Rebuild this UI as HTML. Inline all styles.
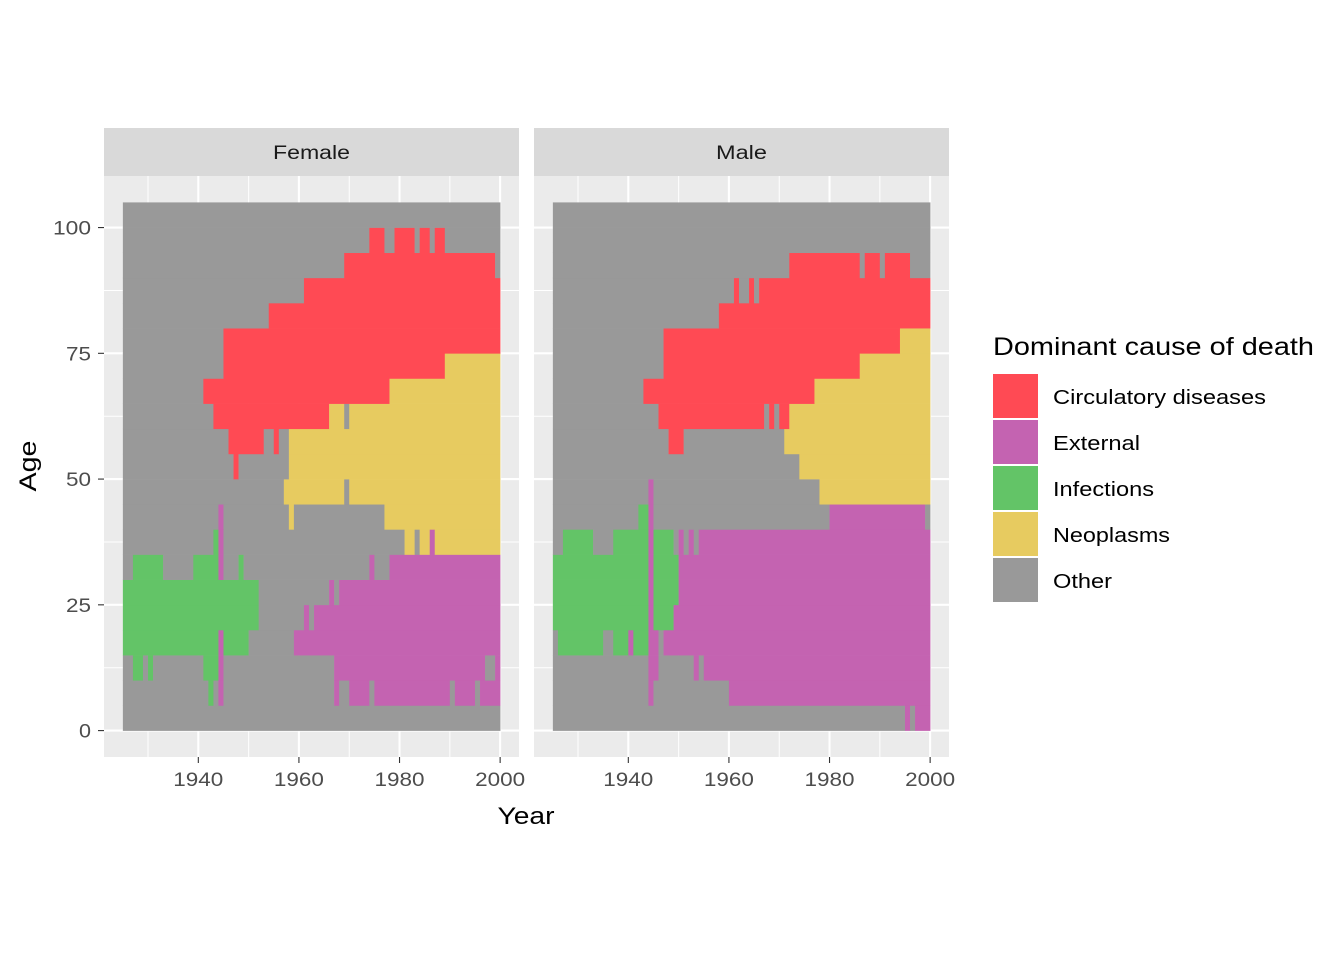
<!DOCTYPE html>
<html><head><meta charset="utf-8">
<style>
html,body{margin:0;padding:0;background:#fff;}
svg{display:block;font-family:"Liberation Sans",sans-serif;}
</style></head>
<body>
<svg id="chart" width="1344" height="960" viewBox="0 0 1344 960" xmlns="http://www.w3.org/2000/svg">
<rect width="1344" height="960" fill="#fff"/>
<g id="panels"></g>
<g id="legend"></g>
<text x="526" y="824" font-size="24" text-anchor="middle" fill="#000" textLength="57" lengthAdjust="spacingAndGlyphs">Year</text>
<text x="36" y="466" font-size="24" text-anchor="middle" fill="#000" transform="rotate(-90 36 466)" textLength="51" lengthAdjust="spacingAndGlyphs">Age</text>
</svg>
<script>
const categories = ["C","E","I","N","O"];
const categoryLabels = ["Circulatory diseases","External","Infections","Neoplasms","Other"];
const categoryColors = {C:"#FF4A54",E:"#C463B1",I:"#63C467",N:"#E7CB60",O:"#999999"};
const ageBands = [0,5,10,15,20,25,30,35,40,45,50,55,60,65,70,75,80,85,90,95,100];
const xTicks = [1940,1960,1980,2000];
const yTicks = [0,25,50,75,100];
const femaleRows = [
"O25",
"O25 I42 O43 E44 O45 E67 O68 E70 O74 E75 O90 E91 O95 E96",
"O25 I27 O29 I30 O31 I41 E44 O45 E67 O97 E99",
"I25 E44 I45 O50 E59",
"I25 O52 E61 O62 E63",
"I25 O52 E66 O67 E68",
"O25 I27 O33 I39 E44 O45 I48 O49 E74 O75 E78",
"O25 I43 E44 O45 N81 O83 N84 E86 N87",
"O25 E44 O45 N58 O59 N77",
"O25 N57 O69 N70",
"O25 C47 O48 N58",
"O25 C46 O53 C55 O56 N58",
"O25 C43 N66 O69 N70",
"O25 C41 N78",
"O25 C45 N89",
"O25 C45",
"O25 C54",
"O25 C61",
"O25 C69 O99",
"O25 C74 O77 C79 O83 C84 O86 C87 O89",
"O25"];
const maleRows = [
"O25 E95 O96 E97",
"O25 E44 O45 E60",
"O25 E44 O46 E53 O54 E55",
"O25 I26 O35 I37 E40 I41 E44 O46 E47",
"I25 E44 I45 E49",
"I25 E44 I45 E50",
"I25 E44 I45 E50",
"O25 I27 O33 I37 E44 I45 O49 E50 O51 E52 O53 E54",
"O25 I42 E44 O45 E80 O99",
"O25 E44 O45 N78",
"O25 N74",
"O25 C48 O51 N71",
"O25 C46 O67 C68 O69 C70 N72",
"O25 C43 N77",
"O25 C47 N86",
"O25 C47 N94",
"O25 C58",
"O25 C61 O62 C64 O65 C66",
"O25 C72 O86 C87 O90 C91 O96",
"O25",
"O25"];
const yearMin = 1925, yearMax = 2000, ageMax = 105;

const NS = "http://www.w3.org/2000/svg";
function mk(tag, attrs, parent){const e=document.createElementNS(NS,tag);for(const k in attrs)e.setAttribute(k,attrs[k]);parent.appendChild(e);return e;}
const panelTop = 176, panelBottom = 757, panelW = 415;
const xRange = yearMax - yearMin, xPad = xRange*0.05;
const yPad = ageMax*0.05;
function makeX(left){return y => left + (y - (yearMin - xPad)) * panelW / (xRange + 2*xPad);}
function ys(a){return panelBottom - (a + yPad) * (panelBottom - panelTop) / (ageMax + 2*yPad);}
const tickW = {"0":12,"25":25,"50":25,"75":25,"100":38};

const panelsG = document.getElementById('panels');
const panels = [{name:"Female", left:104, rows:femaleRows, sw:77},{name:"Male", left:534, rows:maleRows, sw:51}];
panels.forEach((p, pi) => {
  const xs = makeX(p.left);
  const g = mk('g', {}, panelsG);
  
  
  const bg = mk('rect', {x:p.left, y:panelTop, width:panelW, height:panelBottom-panelTop, fill:"#EBEBEB"}, g);
  
  
  for (let yr = 1930; yr <= 2000; yr += 20) {
    const l = mk('line', {x1:xs(yr), x2:xs(yr), y1:panelTop, y2:panelBottom, stroke:"#fff", "stroke-width":1}, g);
    
    
  }
  for (let a = 12.5; a <= 100; a += 25) {
    const l = mk('line', {x1:p.left, x2:p.left+panelW, y1:ys(a), y2:ys(a), stroke:"#fff", "stroke-width":1}, g);
    
    
  }
  xTicks.forEach(t => {
    const l = mk('line', {x1:xs(t), x2:xs(t), y1:panelTop, y2:panelBottom, stroke:"#fff", "stroke-width":2.1}, g);
    
    
  });
  yTicks.forEach(t => {
    const l = mk('line', {x1:p.left, x2:p.left+panelW, y1:ys(t), y2:ys(t), stroke:"#fff", "stroke-width":2.1}, g);
    
    
  });
  p.rows.forEach((row, ri) => {
    const age = ageBands[ri];
    const segs = row.split(' ').map(s => ({c:s[0], start:1900 + parseInt(s.slice(1))}));
    segs.forEach((s, si) => {
      const end = si + 1 < segs.length ? segs[si+1].start : yearMax;
      const r = mk('rect', {x:xs(s.start), y:ys(age+5), width:xs(end)-xs(s.start)+0.3, height:ys(age)-ys(age+5)+0.3, fill:categoryColors[s.c]}, g);
      
      
    });
  });
  const st = mk('rect', {x:p.left, y:128, width:panelW, height:48, fill:"#D9D9D9"}, g);
  
  
  const stt = mk('text', {x:p.left+panelW/2, y:159, "font-size":19, "text-anchor":"middle", fill:"#1A1A1A", textLength:p.sw, lengthAdjust:"spacingAndGlyphs"}, g);
  stt.textContent = p.name;
  
  
  xTicks.forEach(t => {
    const tk = mk('line', {x1:xs(t), x2:xs(t), y1:panelBottom, y2:panelBottom+6, stroke:"#333", "stroke-width":1.1}, g);
    
    
    const tl = mk('text', {x:xs(t), y:786, "font-size":19, "text-anchor":"middle", fill:"#4D4D4D", textLength:50, lengthAdjust:"spacingAndGlyphs"}, g);
    tl.textContent = t;
    
    
  });
  if (pi === 0) {
    yTicks.forEach(t => {
      const tk = mk('line', {x1:p.left-6, x2:p.left, y1:ys(t), y2:ys(t), stroke:"#333", "stroke-width":1.1}, g);
      
      
      const tl = mk('text', {x:p.left-13, y:ys(t)+7, "font-size":19, "text-anchor":"end", fill:"#4D4D4D", textLength:tickW[String(t)], lengthAdjust:"spacingAndGlyphs"}, g);
      tl.textContent = t;
      
      
    });
  }
});
const lg = document.getElementById('legend');
const lt = mk('text', {x:993, y:355, "font-size":25, fill:"#000", textLength:321, lengthAdjust:"spacingAndGlyphs"}, lg);
lt.textContent = "Dominant cause of death";


const labelW = [213,87,101,117,59];
categories.forEach((c, i) => {
  const y0 = 374 + i*46;
  const k = mk('rect', {x:993, y:y0, width:45, height:44, fill:categoryColors[c]}, lg);
  
  
  const t = mk('text', {x:1053, y:y0+30, "font-size":20, fill:"#000", textLength:labelW[i], lengthAdjust:"spacingAndGlyphs"}, lg);
  t.textContent = categoryLabels[i];
  
  
});
</script>
</body></html>
